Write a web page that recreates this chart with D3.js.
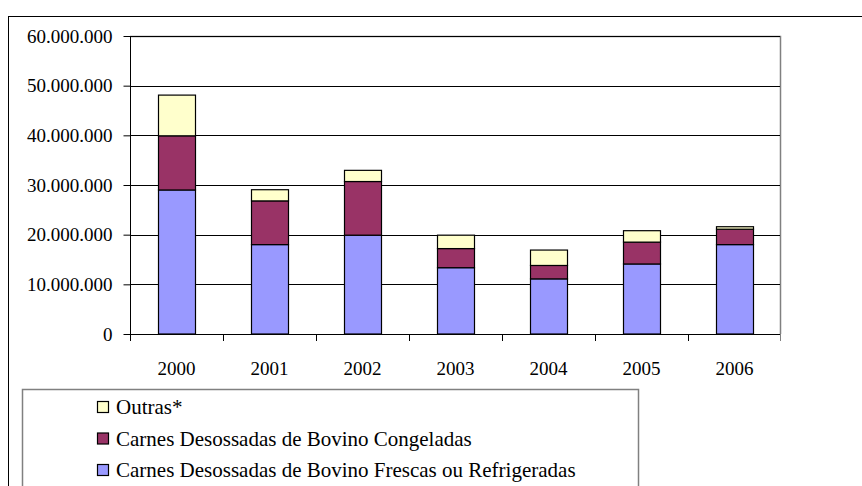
<!DOCTYPE html>
<html><head><meta charset="utf-8">
<script src="https://cdn.jsdelivr.net/npm/d3@7"></script>
<style>body{margin:0;background:#fff}svg{display:block}</style>
</head><body>
<svg id="c" width="862" height="486" style="font-family:'Liberation Serif','Times New Roman',serif"></svg>
<script>
const categories = ["2000","2001","2002","2003","2004","2005","2006"];
const frescas    = [29000000,18000000,19900000,13350000,11100000,14100000,18000000];
const congeladas = [10900000, 8800000,10800000, 3850000, 2700000, 4400000, 3100000];
const outras     = [ 8200000, 2250000, 2250000, 2700000, 3100000, 2300000,  500000];
const seriesNames = ["Carnes Desossadas de Bovino Frescas ou Refrigeradas","Carnes Desossadas de Bovino Congeladas","Outras*"];
const seriesColors = ["#9999FF","#993366","#FFFFCC"];
const yTicks = [0,10000000,20000000,30000000,40000000,50000000,60000000];

const FONT = "Liberation Serif";
const svg = d3.select("#c");
svg.append("rect").attr("x",8.5).attr("y",16.5).attr("width",900).attr("height",600)
  .attr("fill","none").attr("stroke","#000").attr("stroke-width",1);

const L=130, R=781, T=36, B=334;
const x = d3.scaleBand().domain(categories).range([L,R]).paddingInner(0.6).paddingOuter(0.3);
const xb = d3.scaleBand().domain(categories).range([L,R]);
const y = d3.scaleLinear().domain([0,60000000]).range([B,T]);

svg.append("path").attr("d",`M${L},${T+0.5}H${R-0.5}V${B}`).attr("fill","none").attr("stroke","#808080").attr("stroke-width",1.5);

svg.append("g").selectAll("line").data(yTicks.slice(1)).join("line")
  .attr("x1",L).attr("x2",R-1).attr("y1",d=>Math.round(y(d))+0.5).attr("y2",d=>Math.round(y(d))+0.5)
  .attr("stroke","#000").attr("stroke-width",1);

const fmt = d=>d3.format(",")(d).replace(/,/g,".");
const ya = svg.append("g").attr("transform",`translate(${L+0.5},0)`)
  .call(d3.axisLeft(y).tickValues(yTicks).tickFormat(fmt).tickSize(7).tickPadding(11));
ya.attr("font-family",FONT).attr("font-size",19);
ya.select(".domain").attr("stroke","#000").attr("d",`M0,${T}V${B+6}`);
ya.selectAll(".tick line").attr("stroke","#000");
ya.selectAll("text").attr("fill","#000");

const stackData = categories.map((c,i)=>({cat:c, f:frescas[i], c:congeladas[i], o:outras[i]}));
const stack = d3.stack().keys(["f","c","o"])(stackData);
svg.append("g").selectAll("g").data(stack).join("g").attr("fill",(d,i)=>seriesColors[i])
  .selectAll("rect").data(d=>d).join("rect")
  .attr("x",d=>Math.round(x(d.data.cat))+0.5).attr("width",Math.round(x.bandwidth()))
  .attr("y",d=>y(d[1])).attr("height",d=>y(d[0])-y(d[1]))
  .attr("stroke","#000").attr("stroke-width",1.2);

const xa = svg.append("g").attr("transform",`translate(0,${B+0.5})`)
  .call(d3.axisBottom(xb).tickSize(0).tickPadding(0));
xa.attr("font-family",FONT).attr("font-size",19);
xa.select(".domain").attr("stroke","#000").attr("d",`M${L},0H${R}`);
xa.selectAll(".tick line").remove();
xa.selectAll("text").attr("y",0).attr("dy",null).attr("transform","translate(0,40)").attr("fill","#000");
svg.append("g").selectAll("line").data(categories.slice(1).concat(["end"])).join("line")
  .attr("x1",d=>d==="end"?R-0.5:Math.round(xb(d))+0.5).attr("x2",d=>d==="end"?R-0.5:Math.round(xb(d))+0.5)
  .attr("y1",B).attr("y2",B+7).attr("stroke",d=>d==="end"?"#808080":"#000");
svg.append("line").attr("x1",L+0.5).attr("x2",L+0.5).attr("y1",B).attr("y2",B+7).attr("stroke","#000");

const lg = svg.append("g").attr("font-family",FONT).attr("font-size",21);
lg.append("rect").attr("x",22.5).attr("y",389.5).attr("width",616).attr("height",200)
  .attr("fill","#fff").attr("stroke","#808080").attr("stroke-width",1.5);
const legendOrder = [2,1,0];
legendOrder.forEach((si,k)=>{
  const by = 414 + k*31.5;
  lg.append("rect").attr("x",97.5).attr("y",by-12.5).attr("width",11).attr("height",11)
    .attr("fill",seriesColors[si]).attr("stroke","#000").attr("stroke-width",1.2);
  lg.append("text").attr("x",116).attr("y",by).attr("fill","#000").text(seriesNames[si]);
});
</script>
</body></html>
